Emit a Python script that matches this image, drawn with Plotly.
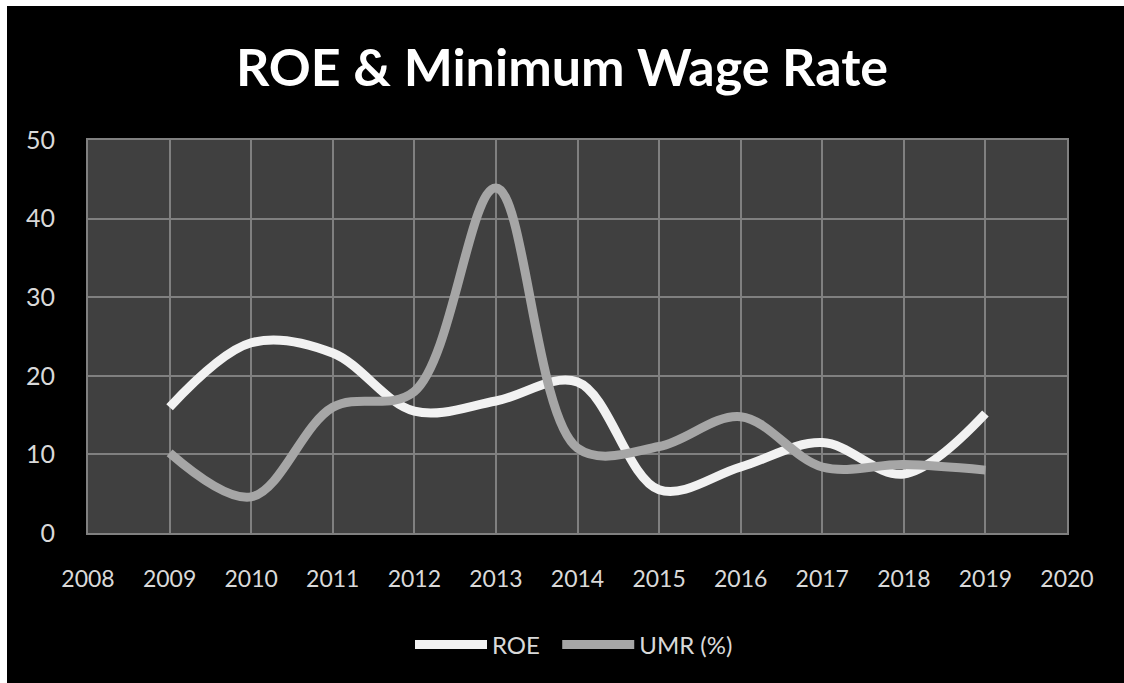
import plotly.graph_objects as go

years = [2009, 2010, 2011, 2012, 2013, 2014, 2015, 2016, 2017, 2018, 2019]
roe = [16.0, 24.2, 22.9, 15.5, 16.8, 19.2, 5.5, 8.4, 11.5, 7.5, 15.2]
umr = [10.2, 4.6, 16.0, 18.0, 43.9, 10.8, 11.0, 14.8, 8.4, 8.7, 8.0]

W, H = 1124, 683
L, R, T, B = 88, 57, 140, 150
pw, ph = W - L - R, H - T - B

def px_to_paper_x(px):
    return (px - L) / pw

def px_to_paper_y(py):
    return (H - B - py) / ph

fig = go.Figure()
fig.add_trace(go.Scatter(
    x=years, y=roe, name="ROE  ", mode="lines",
    line=dict(color="#f2f2f2", width=9, shape="spline", smoothing=1.0),
))
fig.add_trace(go.Scatter(
    x=years, y=umr, name="UMR (%)", mode="lines",
    line=dict(color="#a6a6a6", width=9, shape="spline", smoothing=1.0),
))

# thin white frame along the top and left edges
frame = [
    dict(x0=px_to_paper_x(0), x1=px_to_paper_x(7), y0=px_to_paper_y(H), y1=px_to_paper_y(0)),
    dict(x0=px_to_paper_x(0), x1=px_to_paper_x(W), y0=px_to_paper_y(6), y1=px_to_paper_y(0)),
]
shapes = [dict(type="rect", xref="paper", yref="paper", line=dict(width=0),
               fillcolor="white", layer="above", **f) for f in frame]

fig.update_layout(
    width=W, height=H,
    margin=dict(l=L, r=R, t=T, b=B),
    paper_bgcolor="black",
    plot_bgcolor="#404040",
    font=dict(family="Lato", color="#d9d9d9", size=23),
    title=dict(text="<b>ROE & Minimum Wage Rate</b>", x=0.5, xanchor="center",
               y=1 - 68 / H, yanchor="middle", yref="container",
               font=dict(family="Lato", size=52, color="white")),
    xaxis=dict(range=[2008, 2020], dtick=1, tick0=2008, showgrid=True,
               gridcolor="#808080", gridwidth=2, zeroline=False,
               showline=True, linecolor="#808080", linewidth=2, mirror=True,
               ticks="", ticklabelstandoff=24, fixedrange=True,
               tickfont=dict(size=23, color="#d9d9d9")),
    yaxis=dict(range=[0, 50], dtick=10, showgrid=True,
               gridcolor="#808080", gridwidth=2, zeroline=False,
               showline=True, linecolor="#808080", linewidth=2, mirror=True,
               ticks="", ticklabelstandoff=26, fixedrange=True,
               tickfont=dict(size=25, color="#d9d9d9")),
    legend=dict(orientation="h", x=px_to_paper_x(574), xanchor="center",
                y=px_to_paper_y(645), yanchor="middle",
                itemwidth=72, font=dict(size=24, color="#d9d9d9"),
                bgcolor="rgba(0,0,0,0)", tracegroupgap=0),
    shapes=shapes,
    showlegend=True,
)

fig.write_html("out.html", config=dict(displayModeBar=False))
